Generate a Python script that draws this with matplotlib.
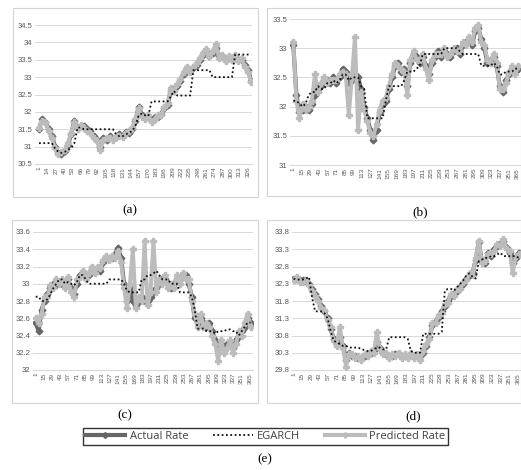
import matplotlib.pyplot as plt
import numpy as np
from matplotlib.patches import Rectangle
from matplotlib.lines import Line2D

plt.rcParams['font.family'] = ['Liberation Sans', 'DejaVu Sans']

# observations sampled every 5th day
days_a = np.arange(1, 332, 5)
days_bcd = np.arange(1, 367, 5)
ticks_a = list(range(1, 327, 13))
ticks_bcd = list(range(1, 366, 14))

# (a)
actual_a = [31.5, 31.8, 31.7, 31.5, 31.3, 31.0, 30.82, 30.8, 30.88, 31.05,
            31.35, 31.75, 31.55, 31.6, 31.6, 31.5, 31.45, 31.3, 31.2, 31.0,
            31.25, 31.2, 31.3, 31.22, 31.28, 31.35, 31.3, 31.42, 31.4, 31.5,
            31.75, 32.15, 31.9, 31.85, 31.85, 31.78, 31.85, 31.85, 31.95, 32.1,
            32.2, 32.6, 32.65, 32.75, 32.9, 33.1, 33.25, 33.2, 33.25, 33.35,
            33.5, 33.65, 33.72, 33.62, 33.7, 33.85, 33.6, 33.62, 33.5, 33.58,
            33.55, 33.6, 33.5, 33.5, 33.35, 33.2, 32.9]
egarch_a = [31.1, 31.1, 31.1, 31.1, 31.1, 30.95, 30.85, 30.82, 30.85, 30.9,
            30.95, 31.1, 31.55, 31.55, 31.5, 31.5, 31.5, 31.5, 31.5, 31.5,
            31.5, 31.5, 31.5, 31.5, 31.35, 31.3, 31.3, 31.35, 31.4, 31.45,
            31.6, 31.9, 31.95, 31.9, 31.88, 32.3, 32.3, 32.3, 32.3, 32.3,
            32.3, 32.45, 32.6, 32.47, 32.47, 32.47, 32.47, 32.47, 33.2, 33.2,
            33.2, 33.2, 33.2, 33.2, 33.0, 33.0, 33.0, 33.0, 33.0, 33.0,
            33.0, 33.65, 33.65, 33.65, 33.65, 33.65, 33.65]
pred_a = [31.55, 31.75, 31.72, 31.45, 31.25, 30.95, 30.78, 30.85, 30.9, 31.1,
          31.4, 31.7, 31.5, 31.62, 31.55, 31.45, 31.4, 31.25, 31.15, 30.9,
          31.2, 31.25, 31.25, 31.2, 31.3, 31.32, 31.28, 31.4, 31.45, 31.55,
          31.8, 32.1, 31.85, 31.8, 31.9, 31.7, 31.8, 31.9, 31.9, 32.15,
          32.25, 32.7, 32.6, 32.8, 32.95, 33.15, 33.3, 33.15, 33.3, 33.4,
          33.55, 33.7, 33.8, 33.6, 33.75, 33.95, 33.55, 33.65, 33.45, 33.6,
          33.5, 33.65, 33.45, 33.55, 33.3, 33.15, 32.85]

# (b)
actual_b = [33.05, 32.2, 31.9, 31.95, 32.0, 31.95, 32.05, 32.2, 32.3, 32.35,
            32.45, 32.45, 32.4, 32.5, 32.4, 32.5, 32.65, 32.6, 32.4, 32.45,
            32.55, 32.5, 32.3, 32.0, 31.8, 31.6, 31.42, 31.6, 31.9, 32.05,
            32.1, 32.3, 32.5, 32.7, 32.75, 32.6, 32.65, 32.35, 32.75, 32.9,
            32.85, 32.75, 32.85, 32.7, 32.55, 32.75, 32.85, 32.95, 32.85, 32.95,
            32.9, 32.85, 32.95, 33.0, 32.9, 33.05, 33.1, 33.15, 33.05, 33.3,
            33.35, 33.15, 33.0, 32.75, 32.8, 32.85, 32.7, 32.35, 32.25, 32.45,
            32.55, 32.6, 32.6, 32.65]
egarch_b = [32.1, 32.1, 32.05, 32.0, 32.05, 32.2, 32.25, 32.25, 32.35, 32.3,
            32.3, 32.4, 32.4, 32.45, 32.4, 32.45, 32.55, 32.55, 32.45, 32.5,
            32.5, 32.5, 32.35, 32.3, 31.8, 31.8, 31.8, 31.8, 31.8, 31.8,
            32.1, 32.35, 32.35, 32.35, 32.35, 32.35, 32.45, 32.6, 32.6, 32.6,
            32.65, 32.7, 32.9, 32.9, 32.9, 32.9, 32.9, 32.9, 32.9, 33.0,
            33.0, 33.0, 33.0, 33.0, 32.95, 32.9, 32.9, 32.9, 32.9, 32.9,
            32.9, 32.7, 32.7, 32.7, 32.7, 32.75, 32.7, 32.55, 32.55, 32.6,
            32.6, 32.6, 32.65, 32.65]
pred_b = [33.1, 32.1, 31.8, 32.05, 31.95, 32.0, 32.1, 32.55, 32.25, 32.4,
          32.5, 32.4, 32.45, 32.45, 32.45, 32.55, 32.6, 32.55, 31.85, 32.5,
          33.2, 31.6, 32.25, 31.95, 31.75, 31.55, 31.5, 31.7, 31.95, 32.1,
          32.15, 32.35, 32.55, 32.75, 32.7, 32.65, 32.6, 32.2, 32.8, 32.95,
          32.8, 32.8, 32.9, 32.65, 32.45, 32.8, 32.9, 32.9, 32.9, 33.0,
          32.85, 32.9, 33.0, 32.95, 32.95, 33.1, 33.05, 33.2, 33.1, 33.35,
          33.4, 33.1, 33.05, 32.8, 32.75, 32.9, 32.75, 32.3, 32.3, 32.4,
          32.6, 32.7, 32.55, 32.7]

# (c)
actual_c = [32.55, 32.45, 32.7, 32.8, 32.88, 32.95, 33.0, 32.98, 33.02, 33.0,
            33.0, 33.05, 32.95, 32.88, 33.0, 33.1, 33.12, 33.08, 33.1, 33.15,
            33.15, 33.18, 33.15, 33.25, 33.3, 33.3, 33.3, 33.35, 33.42, 33.3,
            33.0, 32.8, 32.95, 32.8, 32.75, 32.8, 32.85, 32.8, 32.8, 32.85,
            32.9, 32.95, 33.0, 33.05, 33.05, 33.0, 32.95, 33.0, 33.05, 33.05,
            33.08, 33.1, 33.0, 32.85, 32.6, 32.55, 32.6, 32.55, 32.5, 32.55,
            32.45, 32.35, 32.3, 32.3, 32.25, 32.3, 32.3, 32.25, 32.35, 32.4,
            32.45, 32.5, 32.6, 32.55]
egarch_c = [32.85, 32.85, 32.8, 32.8, 32.82, 32.88, 32.95, 33.0, 33.05, 33.05,
            33.0, 33.02, 33.0, 32.98, 33.02, 33.1, 33.1, 33.05, 33.0, 33.0,
            33.0, 33.0, 33.0, 33.0, 33.0, 33.05, 33.05, 33.05, 33.05, 33.05,
            33.0, 32.92, 32.9, 32.9, 32.9, 32.9, 33.05, 33.05, 33.1, 33.1,
            33.12, 33.15, 33.1, 33.05, 33.05, 33.05, 33.0, 33.0, 33.0, 32.9,
            32.9, 32.9, 32.9, 32.85, 32.7, 32.48, 32.48, 32.48, 32.45, 32.45,
            32.45, 32.42, 32.45, 32.45, 32.45, 32.47, 32.47, 32.45, 32.45, 32.4,
            32.45, 32.5, 32.55, 32.55]
pred_c = [32.6, 32.55, 32.65, 32.85, 32.85, 32.98, 32.95, 33.05, 33.0, 33.05,
          32.95, 33.08, 32.9, 32.85, 33.05, 33.08, 33.15, 33.05, 33.12, 33.2,
          33.12, 33.2, 33.18, 33.28, 33.32, 33.28, 33.32, 33.3, 33.38, 33.25,
          32.95, 32.72, 33.0, 33.4, 32.72, 32.85, 32.8, 33.5, 32.75, 32.9,
          33.5, 32.9, 33.05, 33.0, 33.1, 32.95, 33.0, 32.95, 33.1, 33.0,
          33.12, 33.05, 33.05, 32.8, 32.65, 32.5, 32.65, 32.5, 32.55, 32.5,
          32.4, 32.3, 32.1, 32.35, 32.2, 32.25, 32.35, 32.2, 32.3, 32.45,
          32.4, 32.55, 32.65, 32.5]

# (d)
actual_d = [32.45, 32.45, 32.42, 32.4, 32.38, 32.3, 32.15, 32.0, 31.85, 31.65,
            31.5, 31.3, 31.0, 30.7, 30.55, 30.75, 30.5, 30.1, 30.3, 30.2,
            30.2, 30.15, 30.15, 30.2, 30.25, 30.3, 30.35, 30.6, 30.45, 30.3,
            30.25, 30.2, 30.2, 30.25, 30.25, 30.2, 30.2, 30.2, 30.25, 30.2,
            30.2, 30.2, 30.3, 30.5, 30.75, 31.1, 31.2, 31.35, 31.5, 31.65,
            31.8, 31.95, 32.0, 32.1, 32.2, 32.3, 32.45, 32.55, 32.6, 33.0,
            33.5, 32.95, 32.9, 33.2, 33.1, 33.3, 33.4, 33.45, 33.55, 33.35,
            33.2, 32.9, 33.05, 33.2]
egarch_d = [32.45, 32.42, 32.42, 32.42, 32.45, 32.5, 31.9, 31.5, 31.5, 31.5,
            31.45, 31.3, 30.95, 30.65, 30.6, 30.55, 30.5, 30.5, 30.45, 30.45,
            30.45, 30.45, 30.4, 30.38, 30.35, 30.35, 30.4, 30.45, 30.45, 30.4,
            30.4, 30.75, 30.75, 30.75, 30.75, 30.75, 30.75, 30.7, 30.35, 30.3,
            30.3, 30.3, 30.85, 30.85, 30.85, 30.85, 30.85, 30.85, 30.9, 32.1,
            32.15, 32.15, 32.1, 32.2, 32.3, 32.4, 32.55, 32.6, 32.5, 32.45,
            32.95, 33.0, 33.05, 33.05, 33.1, 33.1, 33.15, 33.2, 33.1, 33.1,
            33.1, 33.1, 33.1, 33.05]
pred_d = [32.4, 32.5, 32.35, 32.35, 32.4, 32.25, 32.1, 31.95, 31.8, 31.6,
          31.55, 31.25, 31.05, 30.65, 30.5, 31.05, 30.45, 29.9, 30.25, 30.25,
          30.15, 30.2, 30.1, 30.25, 30.2, 30.35, 30.3, 30.9, 30.4, 30.25,
          30.3, 30.15, 30.25, 30.2, 30.3, 30.15, 30.25, 30.15, 30.3, 30.15,
          30.25, 30.1, 30.35, 30.55, 30.7, 31.15, 31.15, 31.4, 31.45, 31.7,
          31.75, 32.0, 31.95, 32.15, 32.15, 32.35, 32.4, 32.6, 32.55, 33.05,
          33.55, 32.9, 32.95, 33.15, 33.15, 33.25, 33.45, 33.4, 33.6, 33.3,
          33.25, 32.6, 33.1, 33.15]

yticks_a = [30.5, 31, 31.5, 32, 32.5, 33, 33.5, 34, 34.5]
yticks_b = [31, 31.5, 32, 32.5, 33, 33.5]
yticks_c = [32, 32.2, 32.4, 32.6, 32.8, 33, 33.2, 33.4, 33.6]
yticks_d = [29.8, 30.3, 30.8, 31.3, 31.8, 32.3, 32.8, 33.3, 33.8]

W, H = 521, 470
fig = plt.figure(figsize=(W / 100, H / 100), dpi=100)

dark = '#666666'
light = '#bcbcbc'


def box(x0, y0, x1, y1):
    # panel frame in pixel coords (from top-left)
    fig.patches.append(Rectangle((x0 / W, 1 - y1 / H), (x1 - x0) / W, (y1 - y0) / H,
                                 transform=fig.transFigure, fill=False,
                                 edgecolor='#d4d4d4', lw=0.8))


def panel(px, days, act, eg, pred, ticks, xlim, yticks, tag, tag_xy):
    x0, y0, x1, y1 = px
    ax = fig.add_axes([x0 / W, 1 - y1 / H, (x1 - x0) / W, (y1 - y0) / H])
    ax.plot(days, act, color=dark, lw=3.0, marker='D', ms=3.4, zorder=2)
    ax.plot(days, pred, color=light, lw=2.8, marker='P', ms=4.2, zorder=3)
    ax.plot(days, eg, color='#111111', lw=1.3, ls=(0, (1.0, 1.4)), zorder=4)
    ax.set_xlim(*xlim)
    ax.set_ylim(yticks[0], yticks[-1])
    ax.set_yticks(yticks)
    ax.set_yticklabels(['%g' % v for v in yticks], fontsize=5.5, color='#595959')
    ax.set_xticks(ticks)
    ax.set_xticklabels([str(t) for t in ticks], fontsize=4.6, color='#595959',
                       rotation=90)
    ax.tick_params(length=0, pad=2)
    ax.yaxis.grid(True, color='#d9d9d9', lw=0.7)
    ax.set_axisbelow(True)
    for s in ['top', 'right', 'left']:
        ax.spines[s].set_visible(False)
    ax.spines['bottom'].set_color('#d9d9d9')
    ax.patch.set_alpha(0)
    fig.text(tag_xy[0] / W, 1 - tag_xy[1] / H, tag, ha='center', va='center',
             fontsize=9.5, family='Liberation Serif')
    return ax


box(13, 8, 258, 197)
box(267, 8, 521, 196)
box(12, 220, 258, 403)
box(267, 220, 521, 403)

panel((35, 25, 252, 164), days_a, actual_a, egarch_a, pred_a, ticks_a,
      (-5.2, 332.2), yticks_a, '(a)', (130, 210))
panel((290, 19, 521, 165), days_bcd, actual_b, egarch_b, pred_b, ticks_bcd,
      (-4.4, 370.4), yticks_b, '(b)', (420, 212))
panel((33, 232, 253, 370), days_bcd, actual_c, egarch_c, pred_c, ticks_bcd,
      (-3.6, 370.1), yticks_c, '(c)', (125, 415))
panel((292, 232, 521, 370), days_bcd, actual_d, egarch_d, pred_d, ticks_bcd,
      (-1.5, 369.4), yticks_d, '(d)', (413, 416))

handles = [Line2D([], [], color=dark, lw=3, marker='D', ms=3),
           Line2D([], [], color='#111111', lw=1.3, ls=(0, (1.0, 1.4))),
           Line2D([], [], color=light, lw=3, marker='P', ms=3.5)]
leg = fig.legend(handles, ['Actual Rate', 'EGARCH', 'Predicted Rate'],
                 loc='center', bbox_to_anchor=(265.5 / W, 1 - 436.5 / H),
                 ncol=3, frameon=True, fancybox=False, edgecolor='black',
                 prop={'family': 'Open Sans', 'size': 8},
                 handlelength=3.6, columnspacing=2.2, handletextpad=0.4,
                 borderpad=0.25)
leg.get_frame().set_linewidth(1.0)
for t in leg.get_texts():
    t.set_color('#404040')
fig.text(265 / W, 1 - 459 / H, '(e)', ha='center', va='center',
         fontsize=9.5, family='Liberation Serif')

fig.savefig('out.png', dpi=100)
